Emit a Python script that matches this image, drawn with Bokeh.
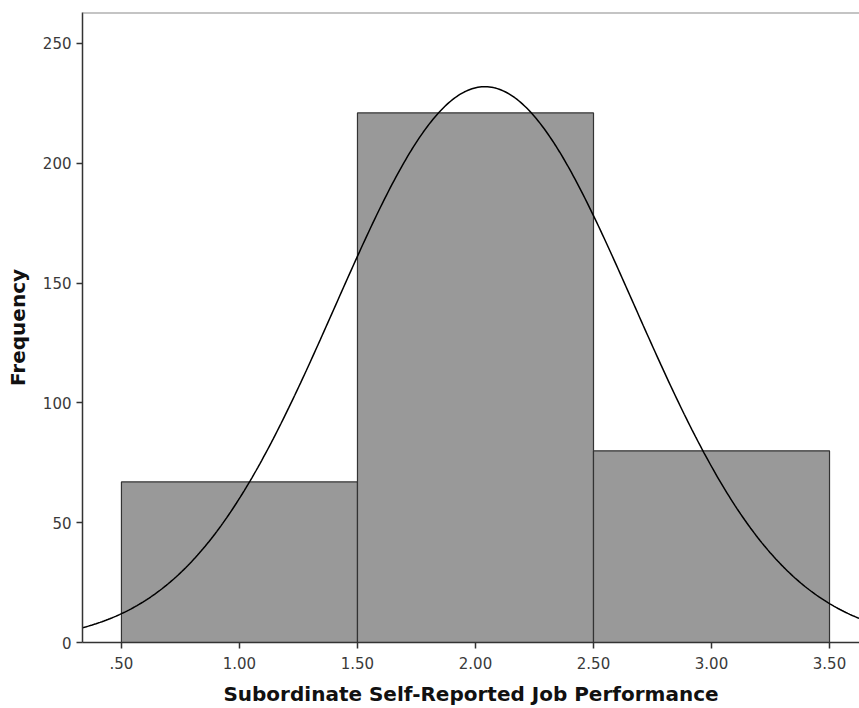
import numpy as np
from bokeh.plotting import figure
from bokeh.models import FixedTicker, Range1d, Span
from bokeh.embed import file_html
from bokeh.resources import INLINE

# Data
bin_left = [0.5, 1.5, 2.5]
bin_right = [1.5, 2.5, 3.5]
frequencies = [67, 221, 80]
x_ticks = [0.5, 1.0, 1.5, 2.0, 2.5, 3.0, 3.5]
x_tick_labels = [".50", "1.00", "1.50", "2.00", "2.50", "3.00", "3.50"]
y_ticks = [0, 50, 100, 150, 200, 250]
# fitted normal curve parameters
mean = 2.04
std_dev = 0.633
n_total = sum(frequencies)
bin_width = 1.0

x_start, x_end = 0.335, 3.627
y_start, y_end = 0, 262.9

p = figure(width=859, height=708, output_backend="svg", toolbar_location=None,
           x_range=Range1d(x_start, x_end), y_range=Range1d(y_start, y_end),
           min_border_left=82, min_border_right=0, min_border_top=12, min_border_bottom=65)
p.grid.visible = False
p.background_fill_color = "white"
p.border_fill_color = "white"
p.outline_line_color = None

p.add_layout(Span(location=y_end, dimension="width", line_color="#8a8a8a", line_width=2))

p.quad(left=bin_left, right=bin_right, bottom=0, top=frequencies,
       fill_color="#999999", line_color="#333333", line_width=1.2)

xs = np.linspace(x_start, x_end, 400)
ys = n_total * bin_width / (std_dev * np.sqrt(2 * np.pi)) * np.exp(-0.5 * ((xs - mean) / std_dev) ** 2)
p.line(xs, ys, line_color="black", line_width=1.5)

for ax in (p.xaxis[0], p.yaxis[0]):
    ax.axis_line_color = "#333333"
    ax.axis_line_width = 1.5
    ax.major_tick_line_color = "#333333"
    ax.major_tick_line_width = 1.5
    ax.major_tick_out = 6
    ax.major_tick_in = 0
    ax.minor_tick_line_color = None
    ax.major_label_text_font = "DejaVu Sans"
    ax.major_label_text_font_size = "15px"
    ax.major_label_text_color = "#3a3a3a"
    ax.axis_label_text_font = "DejaVu Sans"
    ax.axis_label_text_font_style = "bold"
    ax.axis_label_text_font_size = "20px"
    ax.axis_label_text_color = "#111111"

p.xaxis[0].ticker = FixedTicker(ticks=x_ticks)
p.xaxis[0].major_label_overrides = {t: l for t, l in zip(x_ticks, x_tick_labels)}
p.xaxis[0].axis_label = "Subordinate Self-Reported Job Performance"
p.xaxis[0].major_label_standoff = 8
p.xaxis[0].axis_label_standoff = 10
p.yaxis[0].ticker = FixedTicker(ticks=y_ticks)
p.yaxis[0].axis_label = "Frequency"
p.yaxis[0].major_label_standoff = 5
p.yaxis[0].axis_label_standoff = 10

open("out.html", "w").write(file_html(p, INLINE))
